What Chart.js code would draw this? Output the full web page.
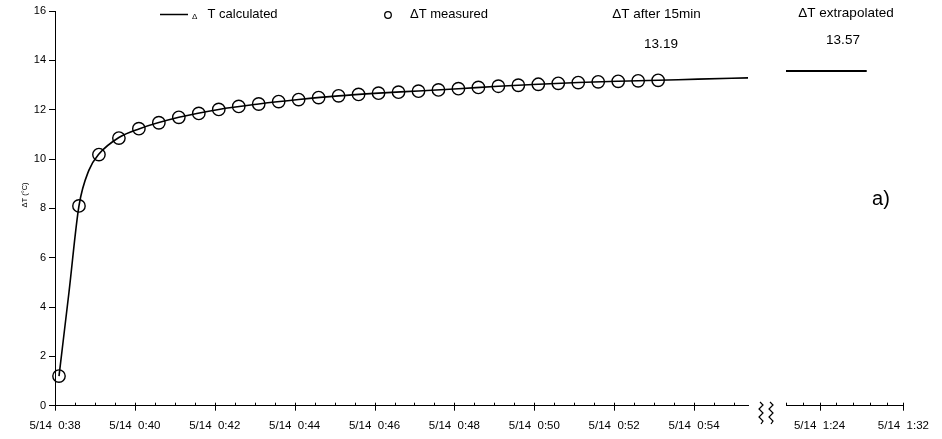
<!DOCTYPE html>
<html>
<head>
<meta charset="utf-8">
<title>ΔT calculated and measured</title>
<script src="https://cdn.jsdelivr.net/npm/chart.js@4.4.1/dist/chart.umd.min.js"></script>
<style>
  html, body { margin: 0; padding: 0; background: #fff; }
  #wrap { position: relative; width: 942px; height: 439px; overflow: hidden; }
  #wrap canvas { position: absolute; left: 0; top: 0; }
</style>
</head>
<body>
<div id="wrap">
  <canvas id="main" width="942" height="439"></canvas>
  <canvas id="tail" width="942" height="439"></canvas>
</div>
<script>
// Time is given in minutes after 5/14 0:38.
const measuredTimes = [0.1, 0.6, 1.1, 1.6, 2.1, 2.6, 3.1, 3.6, 4.1, 4.6, 5.1, 5.6, 6.1, 6.6, 7.1, 7.6,
                       8.1, 8.6, 9.1, 9.6, 10.1, 10.6, 11.1, 11.6, 12.1, 12.6, 13.1, 13.6, 14.1, 14.6, 15.1];
const dtAfter15 = 13.19;   // value after 15 min
const dtExtrap = 13.57;    // extrapolated end value
const measuredDT = [1.2, 8.1, 10.18, 10.85, 11.23, 11.47, 11.69, 11.85, 12.01, 12.13, 12.23, 12.33, 12.41,
                    12.49, 12.56, 12.62, 12.67, 12.71, 12.75, 12.80, 12.85, 12.90, 12.95, 12.99, 13.03,
                    13.07, 13.10, 13.13, 13.15, 13.17, dtAfter15];

const calcTimes = [0.1, 0.35, 0.6, 0.85, 1.1, 1.6, 2.1, 3.1, 4.1, 5.1, 6.1, 7.1, 8.1, 9.1, 10.1,
                   11.1, 12.1, 13.1, 14.1, 15.1, 16.1, 17.35];
const calcDT = [1.2, 4.6, 8.1, 9.55, 10.2, 10.87, 11.22, 11.69, 12.01, 12.23, 12.41, 12.56, 12.67,
                12.76, 12.85, 12.95, 13.03, 13.10, 13.15, 13.19, 13.24, 13.29];

const extrapTimes = [42.8, 50.5];
const extrapDT = [dtExtrap, dtExtrap];

const mainTickValues = [0, 2, 4, 6, 8, 10, 12, 14, 16];
const mainTickLabels = ['5/14  0:38', '5/14  0:40', '5/14  0:42', '5/14  0:44', '5/14  0:46',
                        '5/14  0:48', '5/14  0:50', '5/14  0:52', '5/14  0:54'];
const tailTickValues = [46, 54];
const tailTickLabels = ['5/14  1:24', '5/14  1:32'];
const yTickValues = [0, 2, 4, 6, 8, 10, 12, 14, 16];

const FONT = '"Liberation Sans", Arial, Helvetica, sans-serif';
Chart.defaults.font.family = FONT;
Chart.defaults.color = '#000';

function pairs(xs, ys) { return xs.map((x, i) => ({ x: x, y: ys[i] })); }

function label(ctx, str, x, y, size, align) {
  ctx.font = size + 'px ' + FONT;
  ctx.textAlign = align || 'center';
  ctx.textBaseline = 'middle';
  ctx.fillStyle = '#000';
  ctx.fillText(str, x, y);
}

// Excel-style tick marks: majors cross the axis, minors sit just above it.
function drawTicks(chart, from, to, step, majors) {
  const sx = chart.scales.x, ctx = chart.ctx, y0 = sx.top;
  const n = Math.round((to - from) / step);
  ctx.save();
  ctx.strokeStyle = '#000';
  ctx.lineWidth = 1;
  for (let i = 0; i <= n; i++) {
    const v = from + i * step;
    const px = Math.round(sx.getPixelForValue(v)) + 0.5;
    const major = majors.some(m => Math.abs(m - v) < 1e-6);
    ctx.beginPath();
    ctx.moveTo(px, y0 - 3);
    ctx.lineTo(px, y0 + (major ? 5 : 0));
    ctx.stroke();
  }
  ctx.restore();
}

function drawZigzag(ctx, cx, y0) {
  const pts = [[-1, 0], [2, 3], [-2, 7], [2, 11], [-2, 15], [2, 19], [0, 22]];
  ctx.beginPath();
  pts.forEach((p, i) => { i ? ctx.lineTo(cx + p[0], y0 + p[1]) : ctx.moveTo(cx + p[0], y0 + p[1]); });
  ctx.stroke();
}

const mainDecor = {
  id: 'mainDecor',
  afterDraw(chart) {
    const ctx = chart.ctx;
    drawTicks(chart, 0, 17, 0.5, mainTickValues);
    ctx.save();
    ctx.strokeStyle = '#000';
    // legend
    ctx.lineWidth = 1.5;
    ctx.beginPath(); ctx.moveTo(160, 14.5); ctx.lineTo(188, 14.5); ctx.stroke();
    label(ctx, 'Δ', 192, 16.5, 8, 'left');
    label(ctx, 'T calculated', 207.5, 14.5, 13, 'left');
    ctx.lineWidth = 1.3;
    ctx.beginPath(); ctx.arc(388, 15, 3.3, 0, Math.PI * 2); ctx.stroke();
    label(ctx, 'ΔT measured', 410, 14.5, 13, 'left');
    // value after 15 minutes
    label(ctx, 'ΔT after 15min', 656.5, 14, 13.5);
    label(ctx, dtAfter15.toFixed(2), 661, 44, 13.5);
    // y axis title
    ctx.save();
    ctx.translate(24.5, 195);
    ctx.rotate(-Math.PI / 2);
    label(ctx, 'ΔT (°C)', 0, 0, 7.5);
    ctx.restore();
    // axis break
    ctx.lineWidth = 1.2;
    drawZigzag(ctx, 761, 402);
    drawZigzag(ctx, 771, 402);
    ctx.restore();
  }
};

const tailDecor = {
  id: 'tailDecor',
  afterDraw(chart) {
    const ctx = chart.ctx;
    drawTicks(chart, 42.8, 54, 1.6, tailTickValues);
    label(ctx, 'ΔT extrapolated', 846, 13.5, 13.5);
    label(ctx, dtExtrap.toFixed(2), 843, 40, 13.5);
    label(ctx, 'a)', 881, 199, 20);
  }
};

function xAxis(min, max, values, labels) {
  return {
    type: 'linear', min: min, max: max,
    afterFit(s) { s.height = 30; },
    afterBuildTicks(s) { s.ticks = values.map(v => ({ value: v })); },
    grid: { display: false, drawTicks: false },
    border: { display: true, color: '#000', width: 1 },
    ticks: {
      autoSkip: false, maxRotation: 0, minRotation: 0, padding: 13,
      font: { size: 11.5 }, color: '#000',
      callback: v => labels[values.indexOf(v)]
    }
  };
}

new Chart(document.getElementById('main'), {
  type: 'scatter',
  data: {
    datasets: [
      {
        label: 'Δ T calculated',
        data: pairs(calcTimes, calcDT),
        showLine: true, borderColor: '#000', borderWidth: 1.6,
        pointRadius: 0, cubicInterpolationMode: 'monotone', clip: false
      },
      {
        label: 'ΔT measured',
        data: pairs(measuredTimes, measuredDT),
        showLine: false, pointStyle: 'circle', pointRadius: 6.2,
        borderColor: '#000', borderWidth: 1.4, backgroundColor: 'rgba(0,0,0,0)', clip: false
      }
    ]
  },
  options: {
    responsive: false, animation: false,
    layout: { padding: { left: 0, top: 11, right: 194, bottom: 3.3 } },
    plugins: { legend: { display: false }, tooltip: { enabled: false } },
    scales: {
      x: xAxis(0, 17.35, mainTickValues, mainTickLabels),
      y: {
        min: 0, max: 16,
        afterFit(s) { s.width = 55; },
        afterBuildTicks(s) { s.ticks = yTickValues.map(v => ({ value: v })); },
        grid: { drawOnChartArea: false, drawTicks: true, tickLength: 6, color: '#000', lineWidth: 1 },
        border: { display: true, color: '#000', width: 1 },
        ticks: { padding: 3, font: { size: 11 }, color: '#000' }
      }
    }
  },
  plugins: [mainDecor]
});

new Chart(document.getElementById('tail'), {
  type: 'scatter',
  data: {
    datasets: [{
      label: 'ΔT extrapolated',
      data: pairs(extrapTimes, extrapDT),
      showLine: true, borderColor: '#000', borderWidth: 2, pointRadius: 0, clip: false
    }]
  },
  options: {
    responsive: false, animation: false,
    layout: { padding: { left: 786, top: 11, right: 30, bottom: 3.3 } },
    plugins: { legend: { display: false }, tooltip: { enabled: false } },
    scales: {
      x: xAxis(42.8, 54, tailTickValues, tailTickLabels),
      y: { display: false, min: 0, max: 16 }
    }
  },
  plugins: [tailDecor]
});
</script>
</body>
</html>
